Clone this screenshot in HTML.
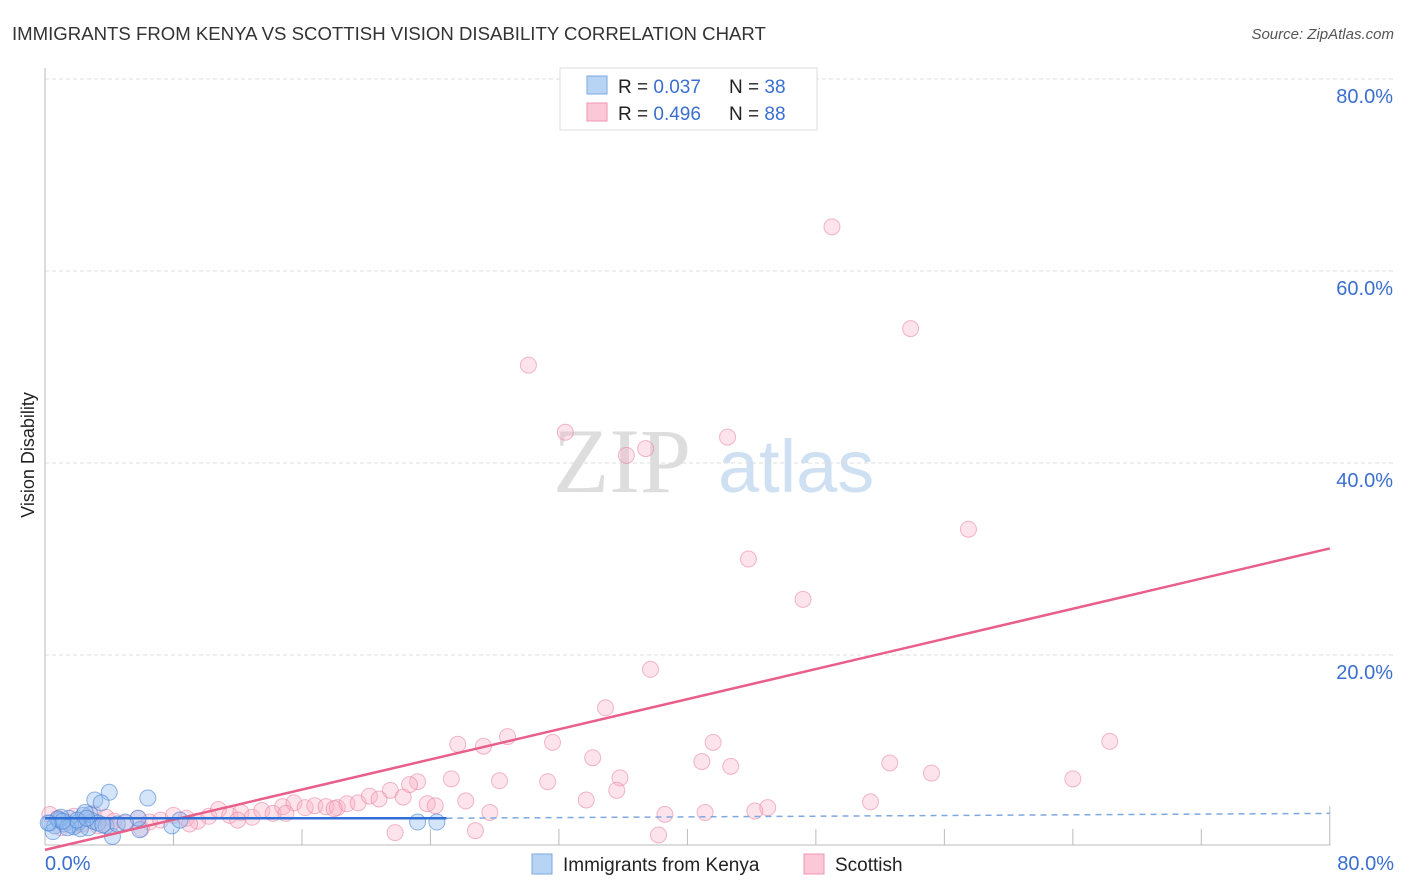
<!DOCTYPE html>
<html><head><meta charset="utf-8"><style>
body{margin:0;background:#fff;font-family:"Liberation Sans",sans-serif;}
#wrap{position:relative;width:1406px;height:892px;overflow:hidden;}
</style></head><body>
<div id="wrap">
<svg id="svg" width="1406" height="892" xmlns="http://www.w3.org/2000/svg">
<text x="12" y="40" font-size="18.6" fill="#333">IMMIGRANTS FROM KENYA VS SCOTTISH VISION DISABILITY CORRELATION CHART</text>
<text x="1394" y="39" font-size="15" fill="#555" font-style="italic" text-anchor="end">Source: ZipAtlas.com</text>
<text x="34" y="455" font-size="18" fill="#222" text-anchor="middle" transform="rotate(-90 34 455)">Vision Disability</text>
<g><text x="553" y="492" font-size="92" fill="#ddd" font-family="Liberation Serif,serif">ZIP</text><text x="718" y="492" font-size="74" fill="#cfe0f3">atlas</text></g>
<g id="grid"></g><g id="marks"></g>
<g>
<rect x="560" y="68" width="257" height="62" fill="#fff" stroke="#ddd"/>
<rect x="587" y="76" width="20" height="18" fill="#b8d4f5" stroke="#7aa8e0"/>
<text x="618" y="93" font-size="19" fill="#222">R = <tspan fill="#3a6fd0">0.037</tspan><tspan x="729">N = </tspan><tspan fill="#3a6fd0">38</tspan></text>
<rect x="587" y="103" width="20" height="18" fill="#fac8d7" stroke="#f096b0"/>
<text x="618" y="120" font-size="19" fill="#222">R = <tspan fill="#3a6fd0">0.496</tspan><tspan x="729">N = </tspan><tspan fill="#3a6fd0">88</tspan></text>
</g>
<g>
<rect x="532" y="854" width="20" height="20" fill="#b8d4f5" stroke="#7aa8e0"/>
<text x="563" y="871" font-size="19" fill="#222">Immigrants from Kenya</text>
<rect x="804" y="854" width="20" height="20" fill="#fac8d7" stroke="#f096b0"/>
<text x="835" y="871" font-size="19" fill="#222">Scottish</text>
</g>
</svg></div>
<script>
const yTicks=[20,40,60,80];
const yTickLabels=["20.0%","40.0%","60.0%","80.0%"];
const xTicks=[0,8,16,24,32,40,48,56,64,72,80];
const kenyaX=[0.3,0.6,0.9,1.2,1.5,1.8,2.1,2.4,2.7,3.0,0.5,1.0,1.6,2.2,2.8,3.3,3.8,4.0,3.1,3.5,6.4,2.5,5.9,4.2,7.9,8.4,5.8,23.2,24.4,0.8,1.4,2.0,4.5,5.0,1.1,2.6,3.6,0.2];
const kenyaY=[2.5,2.2,2.8,2.4,3.0,2.1,2.6,3.3,2.0,2.7,1.6,3.1,2.3,1.9,3.4,2.5,2.2,5.7,4.9,4.6,5.1,3.6,1.8,1.1,2.2,2.8,3.0,2.6,2.6,2.9,2.0,2.8,2.4,2.6,2.7,3.0,2.3,2.5];
const scotX=[49.0,53.9,30.1,32.4,42.5,36.2,37.4,57.5,43.8,47.2,37.7,34.9,28.8,25.7,27.3,31.6,41.6,66.3,34.1,40.9,42.7,52.6,55.2,64.0,35.8,25.3,28.3,31.3,35.6,33.7,26.2,51.4,45.0,44.2,41.1,38.6,27.7,21.8,26.8,38.2,23.2,22.7,21.5,22.3,23.8,24.3,
0.3,0.8,1.3,1.8,2.3,2.8,3.3,3.8,4.3,5.0,5.8,6.5,7.2,8.0,8.8,9.5,10.2,10.8,11.5,12.2,12.9,13.5,14.2,14.8,15.5,16.2,16.8,17.5,18.2,18.8,19.5,20.2,20.8,1.0,2.0,3.0,4.0,6.0,9.0,12.0,15.0,18.0];
const scotY=[64.6,54.0,50.2,43.2,42.7,40.8,41.5,33.1,30.0,25.8,18.5,14.5,11.5,10.7,10.5,10.9,10.9,11.0,9.3,8.9,8.4,8.75,7.7,7.1,7.2,7.1,6.9,6.8,5.9,4.9,4.8,4.7,4.1,3.75,3.6,3.4,3.6,1.5,1.7,1.25,6.8,6.5,5.9,5.2,4.5,4.3,
3.4,3.0,2.6,3.2,2.4,2.9,2.2,3.1,2.7,2.5,3.0,2.6,2.8,3.3,3.0,2.7,3.2,3.9,3.3,3.6,3.1,3.8,3.5,4.2,4.6,4.1,4.3,4.2,4.1,4.5,4.6,5.3,5.0,2.0,2.3,3.5,2.1,1.9,2.4,2.8,3.5,4.0];
const X=v=>45+v*16.06, Y=v=>847-v*9.6;
const NS="http://www.w3.org/2000/svg";
function mk(t,a,p){const e=document.createElementNS(NS,t);for(const k in a)e.setAttribute(k,a[k]);p.appendChild(e);return e;}
const g=document.getElementById('grid'),m=document.getElementById('marks');
yTicks.forEach((t,i)=>{
 const l=mk('line',{x1:45,x2:1394,y1:Y(t),y2:Y(t),stroke:'#ddd','stroke-dasharray':'4 3'},g);
 
 
 const tx=mk('text',{x:1393,y:Y(t)+24,'font-size':20,fill:'#3a6fd0','text-anchor':'end'},g);tx.textContent=yTickLabels[i];
 
 
});
const ax=mk('line',{x1:45,x2:1330,y1:845,y2:845,stroke:'#bbb'},g);


const ay=mk('line',{x1:45,x2:45,y1:68,y2:845,stroke:'#bbb'},g);


xTicks.forEach(t=>{const l=mk('line',{x1:X(t),x2:X(t),y1:845,y2:t==80?806:829,stroke:'#bbb'},g);
 
 });
const xl0=mk('text',{x:45,y:870,'font-size':20,fill:'#3a6fd0'},g);xl0.textContent='0.0%';


const xl1=mk('text',{x:1394,y:870,'font-size':20,fill:'#3a6fd0','text-anchor':'end'},g);xl1.textContent='80.0%';


scotX.forEach((x,i)=>{const c=mk('circle',{cx:X(x),cy:Y(scotY[i]),r:8,fill:'rgba(248,175,198,0.35)',stroke:'rgba(232,130,160,0.55)','stroke-width':1},m);
 
 });
kenyaX.forEach((x,i)=>{const c=mk('circle',{cx:X(x),cy:Y(kenyaY[i]),r:8,fill:'rgba(150,190,240,0.4)',stroke:'rgba(70,130,210,0.6)','stroke-width':1},m);
 
 });
const pt=mk('line',{x1:X(0),y1:Y(-0.3),x2:X(80),y2:Y(31.1),stroke:'#e8608a','stroke-width':2.5},m);


const bt=mk('line',{x1:X(0),y1:Y(3.0),x2:X(25),y2:Y(3.0),stroke:'#2f6fd6','stroke-width':2.5},m);


const bd=mk('line',{x1:X(25),y1:Y(3.0),x2:X(80),y2:Y(3.5),stroke:'#7fa8e0','stroke-width':1.5,'stroke-dasharray':'6 5'},m);


</script>
</body></html>
